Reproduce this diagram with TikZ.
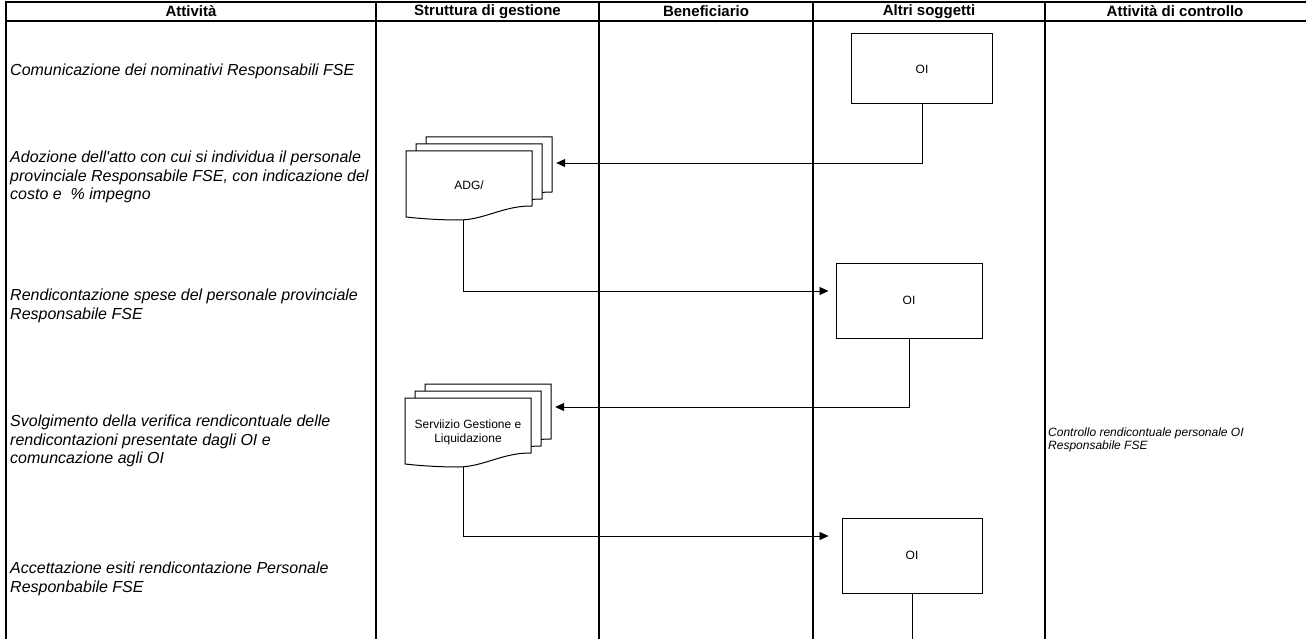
\documentclass[tikz,border=0pt]{standalone}
\usepackage{fontspec}
\setmainfont{Liberation Sans}
\usetikzlibrary{arrows.meta,positioning}

\begin{document}
\begin{tikzpicture}[
  x=1pt, y=-1pt,
  font=\fontsize{16}{18.5}\selectfont,
  griglia/.style={line width=1.3pt},
  intest/.style={font=\fontsize{15}{18}\selectfont\bfseries, inner sep=0pt},
  attivita/.style={anchor=west, align=left, inner sep=0pt, font=\fontsize{16}{18.5}\selectfont\itshape},
  box/.style={draw, line width=1pt, minimum width=141pt, minimum height=70pt, inner sep=0pt, font=\fontsize{12}{13.5}\selectfont},
  doc/.style={minimum width=126pt, minimum height=69pt, inner sep=0pt, align=center, font=\fontsize{12}{13.5}\selectfont},
  pagina/.style={draw, fill=white, line width=1pt},
  arr/.style={-{Triangle[length=9pt,width=8pt]}, line width=0.9pt},
  linea/.style={line width=0.9pt},
  pics/pila/.style={code={
    \foreach \d in {20,10,0}
      \draw[pagina, shift={(\d,-0.7*\d)}] (-63,31.5) -- (-63,-34.5) -- (63,-34.5) -- (63,20.5)
        .. controls (35,20) and (15,34.5) .. (-10,34.5)
        .. controls (-30,34.5) and (-50,33) .. cycle;
  }}
]
\useasboundingbox (0,0) rectangle (1306,639);

% griglia delle corsie
\draw[griglia] (6,639) -- (6,2) -- (1306,2);
\draw[griglia] (6,21) -- (1306,21);
\foreach \x in {376,599,813,1045}
  \draw[griglia] (\x,2) -- (\x,639);

\node[intest] (hAtt) at (191,11.5) {Attività};
\node[intest] (hStr) at (487.5,11.5) {Struttura di gestione};
\node[intest] (hBen) at (706,11.5) {Beneficiario};
\node[intest] (hAlt) at (929,11.5) {Altri soggetti};
\node[intest] (hCtr) at (1175,11.5) {Attività di controllo};

% attivita
\node[attivita] (a1) at (10,71) {Comunicazione dei nominativi Responsabili FSE};
\node[attivita] (a2) at (10,177) {Adozione dell\textquotesingle atto con cui si individua il personale\\provinciale Responsabile FSE, con indicazione del\\costo e\ \ \% impegno};
\node[attivita] (a3) at (10,306) {Rendicontazione spese del personale provinciale\\Responsabile FSE};
\node[attivita] (a4) at (10,441) {Svolgimento della verifica rendicontuale delle\\rendicontazioni presentate dagli OI e\\comuncazione agli OI};
\node[attivita] (a5) at (10,579) {Accettazione esiti rendicontazione Personale\\Responbabile FSE};
\node[attivita, font=\fontsize{12}{13.5}\selectfont\itshape] (ctr) at (1048,440) {Controllo rendicontuale personale OI\\Responsabile FSE};

% blocchi
\node[box] (oi1) at (922,69) {OI};
\pic at (469,185.5) {pila};
\node[doc] (adg) at (469,185.5) {ADG/};
\node[box, minimum width=146pt, minimum height=75pt] (oi2) at (909,300.5) {OI};
\pic at (468,432.5) {pila};
\node[doc] (serv) at (468,432.5) {Serviizio Gestione e\\Liquidazione};
\node[box, minimum width=140pt, minimum height=75pt] (oi3) at (912,555.5) {OI};
\coordinate (oi3giu) at (912,639);

% flussi
\draw[arr] (oi1.south) |- ([xshift=24pt,yshift=22.5pt]adg.east);
\draw[arr] ([xshift=-6pt]adg.south) |- ([xshift=-7pt,yshift=9.5pt]oi2.west);
\draw[arr] (oi2.south) |- ([xshift=24pt,yshift=25.5pt]serv.east);
\draw[arr] ([xshift=-5pt]serv.south) |- ([xshift=-13pt,yshift=19.5pt]oi3.west);
\draw[linea] (oi3.south) -- (oi3giu);
\end{tikzpicture}
\end{document}
